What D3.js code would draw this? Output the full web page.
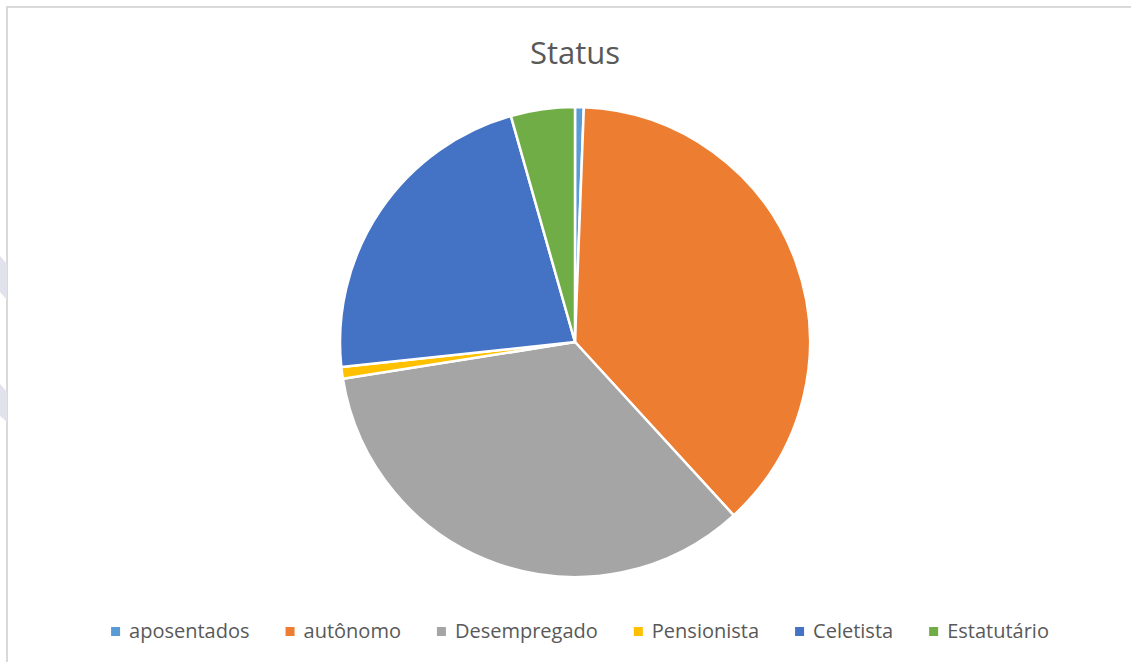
<!DOCTYPE html>
<html>
<head>
<meta charset="utf-8">
<script src="https://cdn.jsdelivr.net/npm/d3@7"></script>
<style>
  body { margin: 0; background: #fff; }
  svg { display: block; }
</style>
</head>
<body>
<svg id="chart"></svg>
<script>
// Data (share of total, %)
const categories = ["aposentados", "autônomo", "Desempregado", "Pensionista", "Celetista", "Estatutário"];
const values = [0.6, 37.6, 34.3, 0.8, 22.3, 4.4];
const colors = ["#5B9BD5", "#ED7D31", "#A5A5A5", "#FFC000", "#4472C4", "#70AD47"];
const title = "Status";

const W = 1131, H = 662;
const svg = d3.select("#chart").attr("width", W).attr("height", H);

// chart frame (only top and left edges visible)
svg.append("rect")
    .attr("x", 7).attr("y", 7)
    .attr("width", W + 20).attr("height", H + 20)
    .attr("fill", "#fff")
    .attr("stroke", "#d9d9d9")
    .attr("stroke-width", 2);

// faint watermark shapes on the left margin
svg.append("path").attr("d", "M0,256 L7,264 L7,300 L0,292 Z").attr("fill", "#e1e2ec");
svg.append("path").attr("d", "M0,384 L7,392 L7,422 L0,416 Z").attr("fill", "#e1e2ec");

// title
svg.append("text")
    .attr("x", 575).attr("y", 64)
    .attr("text-anchor", "middle")
    .attr("font-family", "'Open Sans', sans-serif")
    .attr("font-size", 31)
    .attr("fill", "#595959")
    .text(title);

// pie
const cx = 575, cy = 342, r = 235;
const pie = d3.pie().sort(null).value(d => d.v);
const arc = d3.arc().innerRadius(0).outerRadius(r);
const data = categories.map((c, i) => ({c, v: values[i], col: colors[i]}));

svg.append("g")
    .attr("transform", `translate(${cx},${cy})`)
  .selectAll("path")
  .data(pie(data))
  .enter()
  .append("path")
    .attr("d", arc)
    .attr("fill", d => d.data.col)
    .attr("stroke", "#fff")
    .attr("stroke-width", 2.5)
    .attr("stroke-linejoin", "round");

// legend
const legend = svg.append("g");
const items = legend.selectAll("g")
    .data(data)
    .enter()
    .append("g");

items.append("rect")
    .attr("width", 9).attr("height", 9)
    .attr("y", -11)
    .attr("fill", d => d.col);

items.append("text")
    .attr("x", 18)
    .attr("font-family", "'Open Sans', sans-serif")
    .attr("font-size", 20)
    .attr("fill", "#595959")
    .text(d => d.c);

let xPos = 0;
const gap = 36;
items.each(function() {
    const w = 18 + d3.select(this).select("text").node().getComputedTextLength();
    d3.select(this).attr("transform", `translate(${xPos},0)`);
    xPos += w + gap;
});
const total = xPos - gap;
legend.attr("transform", `translate(${580 - total / 2},638)`);
</script>
</body>
</html>
